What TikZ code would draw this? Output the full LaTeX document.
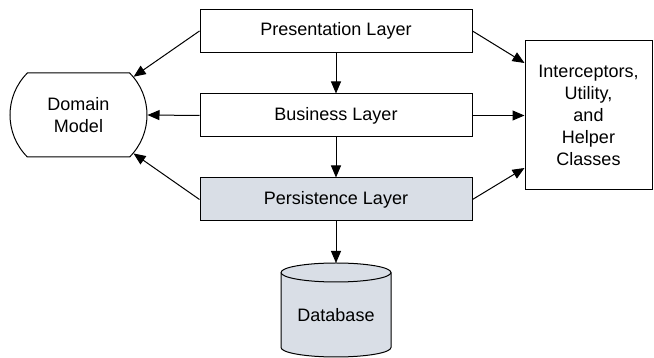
\documentclass[tikz,border=0pt]{standalone}
\usepackage{fontspec}
\setmainfont{Liberation Sans}
\usetikzlibrary{arrows.meta,shapes.misc}

\definecolor{layergray}{RGB}{217,222,230}

\tikzstyle{layerbox} = [draw=black, line width=1pt, rectangle, minimum width=272pt, minimum height=43pt, inner sep=0pt]
\tikzstyle{domainbox} = [draw=black, line width=1pt, rounded rectangle, rounded rectangle arc length=90, minimum width=137pt, minimum height=84pt, align=center, inner sep=0pt]
\tikzstyle{helperbox} = [draw=black, line width=1pt, rectangle, minimum width=127pt, minimum height=149pt, align=center, inner sep=0pt]
\tikzstyle{dbline} = [draw=black, line width=1pt, fill=layergray]
\tikzstyle{flow} = [line width=1pt, -{Triangle[length=12pt,width=10pt]}]

\begin{document}
\begin{tikzpicture}[x=1pt, y=1pt, font=\fontsize{18}{22}\selectfont]
\useasboundingbox (0,0) rectangle (654,358);

% layers
\node[layerbox] (pres) at (336,327) {Presentation Layer};
\node[layerbox] (biz) at (336,242.5) {Business Layer};
\node[layerbox, fill=layergray] (pers) at (336,158.5) {Persistence Layer};

% side boxes
\node[domainbox] (domain) at (78.5,243) {Domain\\Model};
\node[helperbox] (helper) at (588.5,242.5) {Interceptors,\\Utility,\\and\\Helper\\Classes};

% database cylinder
\path[dbline] (281,85.5) -- (281,10.5) arc (180:360:55 and 9.5) -- (391,85.5) arc (0:180:55 and 9.5) -- cycle;
\draw[line width=1pt] (281,85.5) arc (180:360:55 and 9.5);
\coordinate (dbtop) at (336,95);
\node (db) at (336,43) {Database};

% arrows
\draw[flow] (pres) -- (biz);
\draw[flow] (biz) -- (pers);
\draw[flow] (pers) -- (dbtop);
\draw[flow] (pres.west) -- (domain);
\draw[flow] (biz.west) -- (domain.east);
\draw[flow] (pers.west) -- (domain);
\draw[flow] (pres.east) -- ([yshift=52.5pt]helper.west);
\draw[flow] (biz.east) -- (helper.west);
\draw[flow] (pers.east) -- ([yshift=-52.5pt]helper.west);
\end{tikzpicture}
\end{document}
